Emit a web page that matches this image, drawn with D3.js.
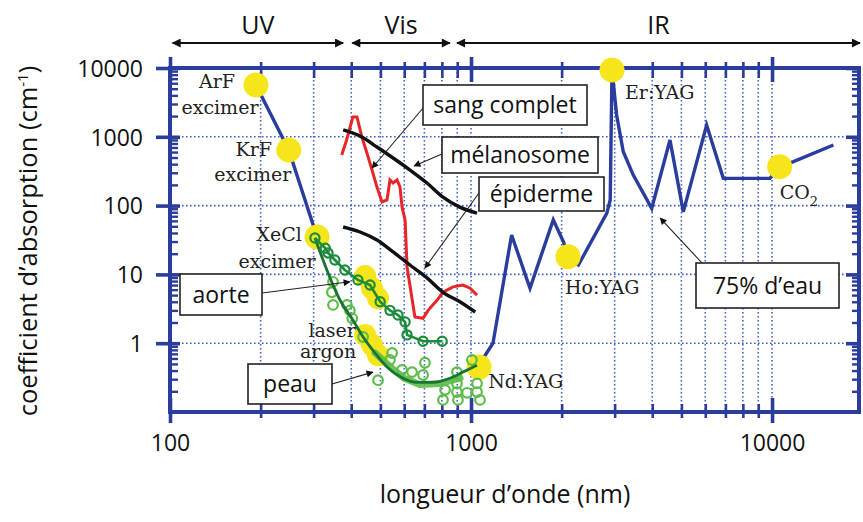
<!DOCTYPE html>
<html>
<head>
<meta charset="utf-8">
<script src="https://cdn.jsdelivr.net/npm/d3@7"></script>
<style>
body { margin: 0; background: #fff; }
svg text { font-family: "Open Sans", sans-serif; fill: #111; }
svg text.serif { font-family: "DejaVu Serif", serif; fill: #222; }
</style>
</head>
<body>
<script>
// water 75% (UV part and IR part)
var waterUvNm = [193, 248, 308];
var waterUvAbs = [5660, 643, 35];
var waterIrNm = [1064, 1110, 1183, 1364, 1570, 1876, 2027, 2105, 2274, 2824, 2900, 2940, 3046, 3205, 3460, 3983, 4581, 5072, 6063, 6887, 9840, 10630, 11780, 15990];
var waterIrAbs = [0.45, 0.65, 1.0, 37.4, 6.3, 62, 29.9, 18.1, 13.7, 77, 121, 9350, 2074, 607, 278, 91, 898, 81, 1485, 249, 249, 368, 435, 760];

// sang complet
var bloodNm = [372, 386, 405, 418, 434, 451, 469, 487, 506, 526, 538, 551, 568, 581, 590, 604, 613, 651, 693, 720, 771, 807, 871, 940, 993, 1047];
var bloodAbs = [544, 898, 1940, 1940, 993, 582, 329, 186, 113, 121, 236, 213, 236, 186, 95, 62, 12.8, 2.4, 2.3, 3.0, 4.2, 5.5, 6.6, 7.0, 6.3, 5.0];

// mélanosome / épiderme
var melanoNm = [376, 434, 487, 551, 627, 714, 807, 918, 1047];
var melanoAbs = [1256, 993, 711, 492, 329, 213, 133, 95, 78];
var epiNm = [376, 428, 487, 551, 627, 714, 807, 918, 1033];
var epiAbs = [48.9, 41.3, 31.6, 21.2, 13.7, 8.9, 5.5, 4.0, 2.84];

// aorte
var aorteNm = [303, 328, 335, 353, 381, 421, 462, 499, 538, 572, 604, 613, 693, 802];
var aorteAbs = [33.8, 24, 20.5, 16.2, 11.6, 8.3, 7.0, 4.0, 3.0, 2.57, 2.03, 1.32, 1.07, 1.07];

// peau: measured points, fit curve, thick band
var peauNm = [348, 345, 348, 387, 396, 403, 438, 491, 547, 538, 590, 637, 703, 693, 807, 820, 898, 898, 898, 905, 970, 1007, 1047, 1047, 1071];
var peauAbs = [7.8, 5.5, 3.6, 3.6, 3.0, 2.3, 1.23, 0.29, 0.72, 0.57, 0.41, 0.38, 0.52, 0.345, 0.15, 0.21, 0.38, 0.26, 0.195, 0.15, 0.19, 0.57, 0.26, 0.195, 0.15];
var peauFitNm = [303, 367, 405, 438, 480, 526, 594, 662, 748, 852, 940, 1047];
var peauFitAbs = [33.8, 4.25, 2.17, 1.23, 0.72, 0.45, 0.31, 0.27, 0.27, 0.31, 0.38, 0.48];
var peauBandNm = [480, 547, 600, 676, 790, 920];
var peauBandAbs = [0.72, 0.43, 0.31, 0.25, 0.26, 0.31];

// lasers
var laserNames = ["ArF", "KrF", "XeCl", "Nd:YAG", "Ho:YAG", "Er:YAG", "CO2"];
var laserNm = [193, 248, 308, 1064, 2100, 2940, 10600];
var laserAbs = [5660, 643, 35, 0.45, 18.1, 9350, 368];
var argonNm = [445, 469, 491];
var argonAorteAbs = [9.5, 6.3, 4.5];
var argonPeauAbs = [1.32, 0.94, 0.67];

// spectral bands
var bandNames = ["UV", "Vis", "IR"];
var bandFrom = [102, 403, 898];
var bandTo = [376, 851, 19600];

// ticks
var xMajor = [100, 1000, 10000];
var xMinor = [200, 300, 400, 500, 600, 700, 800, 900, 2000, 3000, 4000, 5000, 6000, 7000, 8000, 9000];
var yMajor = [1, 10, 100, 1000, 10000];
var yGrid = [1, 10, 100, 1000];
var yMinor = [];
[0.1, 1, 10, 100, 1000].forEach(function(d) {
    for (var k = 2; k <= 9; k++) yMinor.push(+(k * d).toPrecision(2));
});

var blue = "#2a3d9c", gridBlue = "#3f63c8", yellow = "#f6e51a";
var darkGreen = "#1b8c3a", lightGreen = "#5cbd48", fitGreen = "#1a7431";

var width = 863, height = 522;

var x = d3.scaleLog().domain([100, 19300]).range([170, 858]);
var y = d3.scaleLog().domain([0.1, 10000]).range([412, 68]);

var svg = d3.select("body").append("svg")
    .attr("width", width)
    .attr("height", height);

var defs = svg.append("defs");
defs.append("marker").attr("id", "big")
    .attr("viewBox", "0 0 10 10").attr("refX", 9).attr("refY", 5)
    .attr("markerWidth", 13).attr("markerHeight", 9).attr("markerUnits", "userSpaceOnUse")
    .attr("orient", "auto-start-reverse")
    .append("path").attr("d", "M0,0L10,5L0,10Z").attr("fill", "#111");
defs.append("marker").attr("id", "lead")
    .attr("viewBox", "0 0 10 10").attr("refX", 9).attr("refY", 5)
    .attr("markerWidth", 10).attr("markerHeight", 7).attr("markerUnits", "userSpaceOnUse")
    .attr("orient", "auto")
    .append("path").attr("d", "M0,0L10,5L0,10Z").attr("fill", "#111");

// dotted grid
svg.append("g").selectAll("line")
    .data(xMinor.concat([1000, 10000]))
    .enter().append("line")
    .attr("x1", function(d) { return x(d); }).attr("x2", function(d) { return x(d); })
    .attr("y1", y(10000)).attr("y2", y(0.1))
    .attr("stroke", gridBlue).attr("stroke-width", 1.6).attr("stroke-dasharray", "1.6,2.4");
svg.append("g").selectAll("line")
    .data(yGrid)
    .enter().append("line")
    .attr("x1", x(100)).attr("x2", 858)
    .attr("y1", function(d) { return y(d); }).attr("y2", function(d) { return y(d); })
    .attr("stroke", gridBlue).attr("stroke-width", 1.6).attr("stroke-dasharray", "1.6,2.4");

// axes ticks (drawn with d3 axes, no labels)
function ticks(axis, tx, ty, sw) {
    var g = svg.append("g").attr("transform", "translate(" + tx + "," + ty + ")").call(axis.tickFormat(""));
    g.select(".domain").remove();
    g.selectAll("line").attr("stroke", blue).attr("stroke-width", sw);
    return g;
}
ticks(d3.axisBottom(x).tickValues(xMinor).tickSize(16), 0, 62, 2.6);
ticks(d3.axisBottom(x).tickValues(xMajor).tickSize(25), 0, 57, 3.6);
ticks(d3.axisBottom(x).tickValues(xMinor).tickSize(14), 0, 404, 2.6);
ticks(d3.axisBottom(x).tickValues(xMajor).tickSize(25), 0, 398, 3.6);
ticks(d3.axisLeft(y).tickValues(yMinor).tickSize(-8), 170, 0, 2.4);
ticks(d3.axisLeft(y).tickValues(yMajor).tickSize(24), 180, 0, 3.6);
ticks(d3.axisRight(y).tickValues(yMinor).tickSize(-7), 859, 0, 2.4);
ticks(d3.axisRight(y).tickValues(yMajor).tickSize(-13), 859, 0, 3.6);

// frame
svg.append("rect")
    .attr("x", x(100)).attr("y", y(10000))
    .attr("width", 859 - x(100)).attr("height", y(0.1) - y(10000))
    .attr("fill", "none").attr("stroke", blue).attr("stroke-width", 4);

// tick labels
var yl = svg.append("g").attr("transform", "translate(157,0)")
    .call(d3.axisLeft(y).tickValues(yMajor).tickSize(0).tickPadding(14).tickFormat(d3.format("d")));
yl.select(".domain").remove();
yl.selectAll("text").style("font-size", "23px").attr("dy", "0.36em");

var xl = svg.append("g").attr("transform", "translate(0,425)")
    .call(d3.axisBottom(x).tickValues(xMajor).tickSize(0).tickPadding(10).tickFormat(d3.format("d")));
xl.select(".domain").remove();
xl.selectAll("text").style("font-size", "23px");

// axis titles
svg.append("text")
    .attr("x", 505).attr("y", 503)
    .attr("text-anchor", "middle")
    .style("font-size", "25px")
    .text("longueur d’onde (nm)");

var yt = svg.append("g")
    .attr("transform", "translate(37,241) rotate(-90)")
    .append("text")
    .style("font-size", "25.5px");
yt.append("tspan").text("coefficient d’absorption (cm");
yt.append("tspan").attr("dy", -9).style("font-size", "15px").text("-1");
yt.append("tspan").attr("dy", 9).text(")");
yt.attr("x", -yt.node().getBBox().width / 2);

// UV / Vis / IR arrows
var bands = d3.range(bandNames.length);
svg.append("g").selectAll("line")
    .data(bands).enter().append("line")
    .attr("x1", function(i) { return x(bandFrom[i]); })
    .attr("x2", function(i) { return x(bandTo[i]); })
    .attr("y1", 43).attr("y2", 43)
    .attr("stroke", "#111").attr("stroke-width", 2.2)
    .attr("marker-start", "url(#big)").attr("marker-end", "url(#big)");
svg.append("g").selectAll("text")
    .data(bands).enter().append("text")
    .attr("x", function(i) { return x(Math.sqrt(bandFrom[i] * bandTo[i])); })
    .attr("y", 34)
    .attr("text-anchor", "middle")
    .style("font-size", "25px")
    .text(function(i) { return bandNames[i]; });

var line = d3.line()
    .x(function(d) { return x(d[0]); })
    .y(function(d) { return y(d[1]); });

// water
[d3.zip(waterUvNm, waterUvAbs), d3.zip(waterIrNm, waterIrAbs)].forEach(function(pts) {
    svg.append("path").datum(pts)
        .attr("d", line)
        .attr("fill", "none").attr("stroke", blue)
        .attr("stroke-width", 3.4).attr("stroke-linejoin", "miter");
});

// laser spots
svg.append("g").selectAll("circle")
    .data(d3.zip(laserNm, laserAbs)).enter().append("circle")
    .attr("cx", function(d) { return x(d[0]); })
    .attr("cy", function(d) { return y(d[1]); })
    .attr("r", 12.5).attr("fill", yellow);
svg.append("g").selectAll("circle")
    .data(d3.zip(argonNm, argonAorteAbs).concat(d3.zip(argonNm, argonPeauAbs))).enter().append("circle")
    .attr("cx", function(d) { return x(d[0]); })
    .attr("cy", function(d) { return y(d[1]); })
    .attr("r", 11).attr("fill", yellow);

// blood, melanosome, epidermis
svg.append("path").datum(d3.zip(bloodNm, bloodAbs))
    .attr("d", line).attr("fill", "none")
    .attr("stroke", "#e8262a").attr("stroke-width", 3);
[d3.zip(melanoNm, melanoAbs), d3.zip(epiNm, epiAbs)].forEach(function(pts) {
    svg.append("path").datum(pts)
        .attr("d", line.curve(d3.curveMonotoneX)).attr("fill", "none")
        .attr("stroke", "#111").attr("stroke-width", 3.4);
});
line.curve(d3.curveLinear);

// peau
svg.append("path").datum(d3.zip(peauBandNm, peauBandAbs))
    .attr("d", line).attr("fill", "none")
    .attr("stroke", lightGreen).attr("stroke-width", 7).attr("stroke-opacity", 0.9)
    .attr("stroke-linecap", "round").attr("stroke-linejoin", "round");
svg.append("g").selectAll("circle")
    .data(d3.zip(peauNm, peauAbs)).enter().append("circle")
    .attr("cx", function(d) { return x(d[0]); })
    .attr("cy", function(d) { return y(d[1]); })
    .attr("r", 4.8).attr("fill", "none")
    .attr("stroke", lightGreen).attr("stroke-width", 2.2);
svg.append("path").datum(d3.zip(peauFitNm, peauFitAbs))
    .attr("d", line.curve(d3.curveMonotoneX)).attr("fill", "none")
    .attr("stroke", fitGreen).attr("stroke-width", 2.8);
line.curve(d3.curveLinear);

// aorte
svg.append("path").datum(d3.zip(aorteNm, aorteAbs))
    .attr("d", line).attr("fill", "none")
    .attr("stroke", darkGreen).attr("stroke-width", 2.6);
svg.append("g").selectAll("circle")
    .data(d3.zip(aorteNm, aorteAbs)).enter().append("circle")
    .attr("cx", function(d) { return x(d[0]); })
    .attr("cy", function(d) { return y(d[1]); })
    .attr("r", 4.6).attr("fill", "none")
    .attr("stroke", darkGreen).attr("stroke-width", 2.2);

// laser labels (offsets from spot centre)
var laserLabels = [
    {i: 0, lines: ["ArF", "excimer"], dx: [-39, -36], dy: [3, 29], anchor: "middle"},
    {i: 1, lines: ["KrF", "excimer"], dx: [-35, -36], dy: [6, 31], anchor: "middle"},
    {i: 2, lines: ["XeCl", "excimer"], dx: [-38, -40], dy: [4, 31], anchor: "middle"},
    {i: 3, lines: ["Nd:YAG"], dx: [9], dy: [21], anchor: "start"},
    {i: 4, lines: ["Ho:YAG"], dx: [-3], dy: [37], anchor: "start"},
    {i: 5, lines: ["Er:YAG"], dx: [13], dy: [29], anchor: "start"}
];
laserLabels.forEach(function(l) {
    var cx = x(laserNm[l.i]), cy = y(laserAbs[l.i]);
    l.lines.forEach(function(s, k) {
        svg.append("text").attr("class", "serif")
            .attr("x", cx + l.dx[k]).attr("y", cy + l.dy[k])
            .attr("text-anchor", l.anchor)
            .style("font-size", "19px")
            .text(s);
    });
});
var co2 = svg.append("text").attr("class", "serif")
    .attr("x", x(laserNm[6])).attr("y", y(laserAbs[6]) + 32)
    .style("font-size", "19px");
co2.append("tspan").text("CO");
co2.append("tspan").attr("dy", 7).style("font-size", "13px").text("2");

// laser argon label
svg.append("text").attr("class", "serif")
    .attr("x", x(argonNm[0]) - 33).attr("y", y(argonPeauAbs[0]) + 2)
    .attr("text-anchor", "middle").style("font-size", "19px").text("laser");
svg.append("text").attr("class", "serif")
    .attr("x", x(argonNm[0]) - 37).attr("y", y(argonPeauAbs[0]) + 23)
    .attr("text-anchor", "middle").style("font-size", "19px").text("argon");

// boxed labels with leader arrows (target in data units)
var boxes = [
    {text: "sang complet", bx: 423, by: 85, bw: 164, bh: 40, sx: 424, sy: 107, nm: 469, abs: 352},
    {text: "mélanosome", bx: 442, by: 137, bw: 156, bh: 36, sx: 442, sy: 154, nm: 647, abs: 376},
    {text: "épiderme", bx: 479, by: 177, bw: 125, bh: 34, sx: 479, sy: 193, nm: 703, abs: 12.4},
    {text: "aorte", bx: 180, by: 274, bw: 82, bh: 41, sx: 262, sy: 293, nm: 396, abs: 7.8},
    {text: "peau", bx: 248, by: 364, bw: 84, bh: 40, sx: 332, sy: 384, nm: 472, abs: 0.38},
    {text: "75% d’eau", bx: 696, by: 263, bw: 143, bh: 45, sx: 702, sy: 263, nm: 4250, abs: 66}
];
boxes.forEach(function(b) {
    svg.append("line")
        .attr("x1", b.sx).attr("y1", b.sy)
        .attr("x2", x(b.nm)).attr("y2", y(b.abs))
        .attr("stroke", "#222").attr("stroke-width", 1.1)
        .attr("marker-end", "url(#lead)");
    svg.append("rect")
        .attr("x", b.bx).attr("y", b.by).attr("width", b.bw).attr("height", b.bh)
        .attr("fill", "#fff").attr("stroke", "#222").attr("stroke-width", 1.6);
    svg.append("text")
        .attr("x", b.bx + b.bw / 2).attr("y", b.by + b.bh / 2)
        .attr("dy", "0.35em").attr("text-anchor", "middle")
        .style("font-size", "23px")
        .text(b.text);
});
</script>
</body>
</html>
